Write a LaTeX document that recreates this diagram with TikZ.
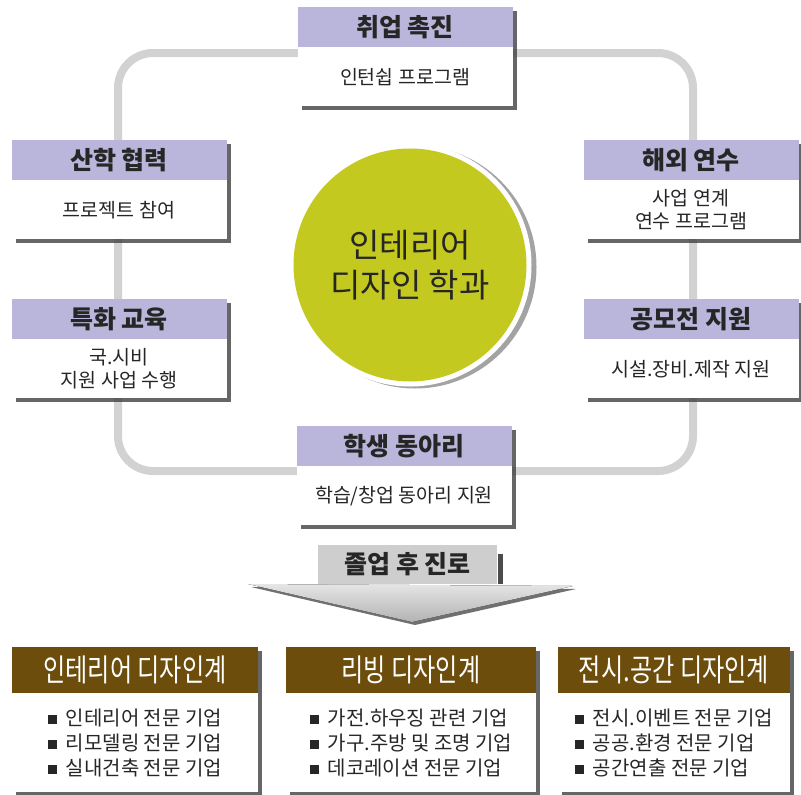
\documentclass[tikz,border=0pt]{standalone}
\usepackage{fontspec}
\usepackage{graphicx}
\setmainfont{Noto Sans CJK KR}
\usetikzlibrary{positioning,shadows}
\definecolor{hdrpurple}{RGB}{186,181,218}
\definecolor{ringgray}{RGB}{210,210,210}
\definecolor{deptolive}{RGB}{196,201,32}
\definecolor{careerbrown}{RGB}{108,77,12}
\definecolor{pathgray}{RGB}{206,206,206}
\newcommand\sqbullet{\rule[1pt]{9pt}{9pt}\hspace{9pt}}
\newcommand\narrowtext[1]{\scalebox{0.78}[1]{#1}}
\tikzset{card shadow/.style = {drop shadow={shadow xshift=4pt,shadow yshift=-4pt,
    fill=black!75,opacity=.8}},
  hdr/.style = {fill=hdrpurple,minimum width=215pt,minimum height=40pt,inner sep=0pt,
    text=black!85,font=\fontsize{25}{28}\selectfont\bfseries,card shadow},
  cardbody/.style = {fill=white,minimum width=215pt,minimum height=59pt,inner sep=0pt,
    align=center,text=black!85,font=\fontsize{19.5}{23}\selectfont,card shadow,below=0pt of #1},
  career hdr/.style = {fill=careerbrown,minimum width=#1,minimum height=46pt,inner sep=0pt,
    text=white,font=\fontsize{31}{34}\selectfont,card shadow},
  career body/.style = {fill=white,minimum width=#1,minimum height=99pt,inner sep=0pt,
    align=left,text=black!85,font=\fontsize{20}{25}\selectfont,card shadow}
}

\begin{document}
\begin{tikzpicture}[x=1pt,y=-1pt]
        \useasboundingbox (0,0) rectangle (801,795);
        \coordinate (ringNW) at (118,53);
        \coordinate (ringSE) at (693,471);
        \draw[ringgray,line width=8pt,rounded corners=35pt] (ringNW) rectangle (ringSE);

        \node[circle,fill=white,minimum size=243pt,
          drop shadow={shadow xshift=5pt,shadow yshift=-2pt,fill=black!45,opacity=.8}]
          (deptring) at (410,265) {};
        \node[circle,fill=deptolive,minimum size=233pt,align=center,text=black!85,
          font=\fontsize{33}{40}\selectfont] (dept) at (410,265) {인테리어\\디자인 학과};

        \node[hdr] (job) at (405,27) {취업 촉진};
        \node[cardbody=job] (jobtxt) {인턴쉽 프로그램};
        \node[hdr] (ind) at (119,160) {산학 협력};
        \node[cardbody=ind] (indtxt) {프로젝트 참여};
        \node[hdr] (edu) at (119,319) {특화 교육};
        \node[cardbody=edu] (edutxt) {국.시비\\지원 사업 수행};
        \node[hdr] (abroad) at (691,160) {해외 연수};
        \node[cardbody=abroad] (abroadtxt) {사업 연계\\연수 프로그램};
        \node[hdr] (contest) at (691,319) {공모전 지원};
        \node[cardbody=contest] (contesttxt) {시설.장비.제작 지원};
        \node[hdr] (club) at (404,446) {학생 동아리};
        \node[cardbody=club] (clubtxt) {학습/창업 동아리 지원};

        \coordinate (arrL) at (248,584);
        \coordinate (arrR) at (573,586);
        \coordinate (arrTip) at (412,622);
        \fill[top color=black!10,bottom color=black!30,
          drop shadow={shadow xshift=3pt,shadow yshift=-3pt,fill=black!70,opacity=.8}]
          (arrL) -- (arrR) -- (arrTip) -- cycle;
        \node[fill=pathgray,minimum width=179pt,minimum height=39pt,inner sep=0pt,text=black!85,
          font=\fontsize{25}{28}\selectfont\bfseries] (career) at (407.5,564.5) {졸업 후 진로};
        \fill[black!70] ([xshift=1pt,yshift=-9pt]career.north east) rectangle ([xshift=6pt]career.south east);

        \node[career hdr=246pt] (interior) at (135,670) {\narrowtext{인테리어 디자인계}};
        \node[career body=246pt,below=0pt of interior] (interiortxt)
          {\sqbullet 인테리어 전문 기업\\\sqbullet 리모델링 전문 기업\\\sqbullet 실내건축 전문 기업};
        \node[career hdr=250pt] (living) at (411,670) {\narrowtext{리빙 디자인계}};
        \node[career body=250pt,below=0pt of living] (livingtxt)
          {\sqbullet 가전.하우징 관련 기업\\\sqbullet 가구.주방 및 조명 기업\\\sqbullet 데코레이션 전문 기업};
        \node[career hdr=232pt] (display) at (674,670) {\narrowtext{전시.공간 디자인계}};
        \node[career body=232pt,below=0pt of display] (displaytxt)
          {\sqbullet 전시.이벤트 전문 기업\\\sqbullet 공공.환경 전문 기업\\\sqbullet 공간연출 전문 기업};
\end{tikzpicture}
\end{document}
